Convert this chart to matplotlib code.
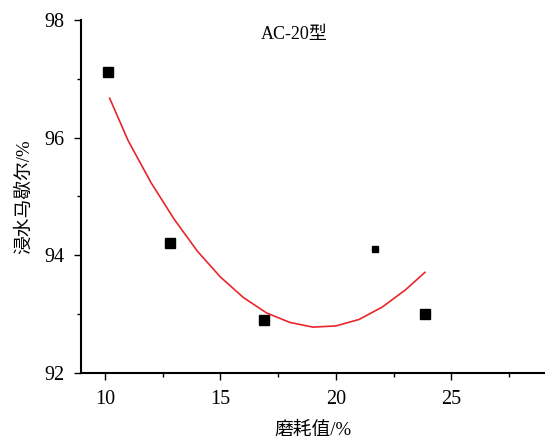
import matplotlib.pyplot as plt
from matplotlib.ticker import MultipleLocator

plt.rcParams['font.family'] = ['Liberation Serif', 'Noto Sans CJK SC']

# measured points (wear value vs. immersion Marshall residual stability)
wear = [10.15, 12.8, 16.9, 23.85]
stability = [97.12, 94.21, 92.9, 93.0]
# one point drawn smaller in the original
wear_small = [21.7]
stability_small = [94.1]

# fitted curve
fit_x = [10.2, 11, 12, 13, 14, 15, 16, 17, 18, 19, 20, 21, 22, 23, 23.85]
fit_y = [96.67, 95.95, 95.23, 94.61, 94.07, 93.63, 93.28, 93.02, 92.86, 92.78,
         92.80, 92.91, 93.12, 93.41, 93.71]

fig = plt.figure(figsize=(5.45, 4.43), dpi=100)
ax = fig.add_axes([0.1486, 0.158, 0.8514, 0.797])

ax.plot(fit_x, fit_y, color='#e8262b', lw=1.2)
ax.plot(wear, stability, 's', color='black', ms=7)
ax.plot(wear_small, stability_small, 's', color='black', ms=5)

ax.set_xlim(8.96, 29.05)
ax.set_ylim(92, 98)
ax.xaxis.set_major_locator(MultipleLocator(5))
ax.xaxis.set_minor_locator(MultipleLocator(2.5))
ax.yaxis.set_major_locator(MultipleLocator(2))
ax.yaxis.set_minor_locator(MultipleLocator(1))
ax.tick_params(which='major', length=5, width=1, labelsize=14.5, pad=7)
ax.tick_params(which='minor', length=3, width=1)
ax.spines['top'].set_visible(False)
ax.spines['right'].set_visible(False)
ax.spines['left'].set_linewidth(1.5)
ax.spines['bottom'].set_linewidth(1.5)

ax.text(0.459, 0.96, 'AC-20型', transform=ax.transAxes, ha='center', va='center', fontsize=13)
ax.set_xlabel('磨耗值/%', fontsize=13.5, labelpad=9)
ax.set_ylabel('浸水马歇尔/%', fontsize=13.5, labelpad=8)

fig.savefig('out.png', dpi=100)
